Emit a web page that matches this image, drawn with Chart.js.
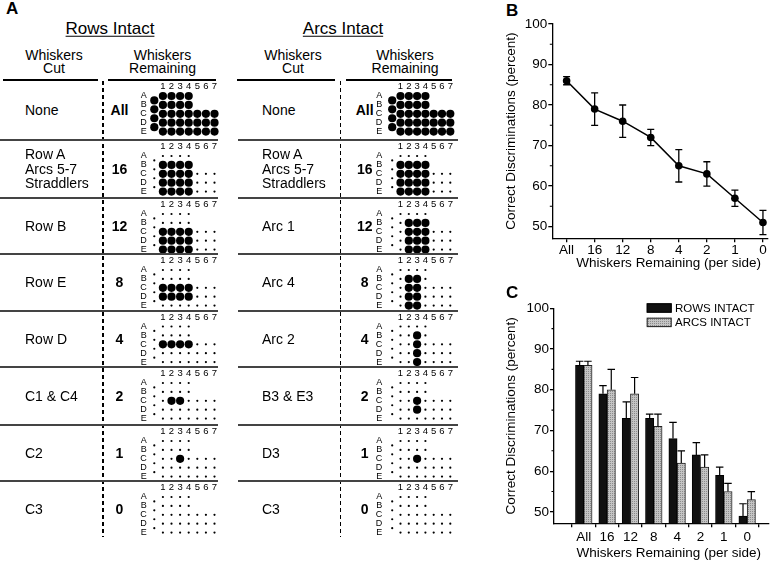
<!DOCTYPE html>
<html>
<head>
<meta charset="utf-8">
<title>Whisker discrimination</title>
<script src="https://cdn.jsdelivr.net/npm/chart.js@4.4.1/dist/chart.umd.min.js"></script>
<style>
  body { margin: 0; background: #fff; }
  #fig { position: relative; width: 774px; height: 563px; overflow: hidden;
         font-family: "Liberation Sans", Arial, Helvetica, sans-serif; color: #000; }
  .t { position: absolute; white-space: pre; line-height: 14.5px; }
  .rule { position: absolute; }
  canvas { position: absolute; }
</style>
</head>
<body>
<div id="fig"></div>
<script>
// ── DATA ──────────────────────────────────────────────
const padRows = ["A", "B", "C", "D", "E"];
const padCols = ["1", "2", "3", "4", "5", "6", "7"];
const rowLengths = [4, 4, 7, 7, 7];

const remainingLabels = ["All", "16", "12", "8", "4", "2", "1", "0"];
const rowsCutLabels = ["None", "Row A\nArcs 5-7\nStraddlers", "Row B", "Row E", "Row D", "C1 & C4", "C2", "C3"];
const arcsCutLabels = ["None", "Row A\nArcs 5-7\nStraddlers", "Arc 1", "Arc 4", "Arc 2", "B3 & E3", "D3", "C3"];

// whiskers left intact ("S" = the four straddlers)
const rowsKept = [
  "S A1-4 B1-4 C1-7 D1-7 E1-7",
  "B1-4 C1-4 D1-4 E1-4",
  "C1-4 D1-4 E1-4",
  "C1-4 D1-4",
  "C1-4",
  "C2-3",
  "C3",
  "",
];
const arcsKept = [
  "S A1-4 B1-4 C1-7 D1-7 E1-7",
  "B1-4 C1-4 D1-4 E1-4",
  "B2-4 C2-4 D2-4 E2-4",
  "B2-3 C2-3 D2-3 E2-3",
  "B3 C3 D3 E3",
  "C3 D3",
  "C3",
  "",
];

const meanB = [86, 79, 76, 72, 65, 63, 57, 51];
const semB  = [1, 4, 4, 2, 4, 3, 2, 3];

const rowsMean = [86, 79, 73, 73, 68, 64, 59, 49];
const rowsSem  = [1, 2, 4, 1, 4, 3, 2, 3];
const arcsMean = [86, 80, 79, 71, 62, 61, 55, 53];
const arcsSem  = [1, 5, 4, 3, 3, 3, 2, 2];

const yTicks = [50, 60, 70, 80, 90, 100];
const minorYTicks = [55, 65, 75, 85, 95];

// ── HELPERS ───────────────────────────────────────────
const FONT = '"Liberation Sans", Arial, Helvetica, sans-serif';
Chart.defaults.font.family = FONT;
Chart.defaults.color = "#000";

const fig = document.getElementById("fig");

function addText(str, x, y, style, align) {
  const d = document.createElement("div");
  d.className = "t";
  d.textContent = str;
  Object.assign(d.style, style);
  d.style.left = x + "px";
  d.style.top = y + "px";
  if (align === "left") {
    d.style.transform = "translate(0,-50%)";
  } else {
    d.style.transform = "translate(-50%,-50%)";
    d.style.textAlign = "center";
  }
  fig.appendChild(d);
  return d;
}

function addRule(x, y, w, h, bg) {
  const d = document.createElement("div");
  d.className = "rule";
  Object.assign(d.style, { left: x + "px", top: y + "px", width: w + "px", height: h + "px", background: bg });
  fig.appendChild(d);
}

function addCanvas(x, y, w, h) {
  const c = document.createElement("canvas");
  c.width = w;
  c.height = h;
  c.style.left = x + "px";
  c.style.top = y + "px";
  fig.appendChild(c);
  return c;
}

function parseKept(spec) {
  const set = new Set();
  spec.split(" ").filter(Boolean).forEach(tok => {
    if (tok === "S") { for (let k = 0; k < 4; k++) set.add("S" + k); return; }
    const r = padRows.indexOf(tok[0]);
    const [a, b] = tok.slice(1).split("-").map(Number);
    for (let c = a; c <= (b || a); c++) set.add(r + ":" + c);
  });
  return set;
}

function gridPoints(set) {
  const kept = [], cut = [];
  for (let k = 0; k < 4; k++) (set.has("S" + k) ? kept : cut).push({ x: 0, y: k + 0.5 });
  padRows.forEach((_, r) => {
    for (let c = 1; c <= rowLengths[r]; c++) (set.has(r + ":" + c) ? kept : cut).push({ x: c, y: r });
  });
  return { kept, cut };
}

// ── PANEL A: TABLES ───────────────────────────────────
const rowTops = [80, 140, 198, 254, 310.5, 367, 425, 481, 537];
const tables = [
  { title: "Rows Intact", cut: rowsCutLabels, kept: rowsKept,
    titleX: 110, cutX: 54, remX: 162.5, rule1: [3, 98], rule2: [108, 216], rowRule: [0, 218],
    dashX: 103, labelX: 25, numX: 119.5, col1: 162.9, sp: 8.6, letterX: 143.8 },
  { title: "Arcs Intact", cut: arcsCutLabels, kept: arcsKept,
    titleX: 343, cutX: 293, remX: 405, rule1: [237, 335], rule2: [346, 452], rowRule: [238, 458],
    dashX: 340.7, labelX: 262, numX: 364.7, col1: 400.5, sp: 8.3, letterX: 379.3 },
];

function drawGrid(t, top, kept) {
  const rowGap = 8.9, yA = top + 16;
  const xMin = -0.8, xMax = 7.6, yMin = -0.35, yMax = 4.6;
  const cl = t.col1 + (xMin - 1) * t.sp, cr = t.col1 + (xMax - 1) * t.sp;
  const ct = yA + yMin * rowGap, cb = yA + yMax * rowGap;
  const L = Math.floor(cl - 16), T = Math.floor(ct - 13);
  const W = Math.ceil(cr + 5) - L, H = Math.ceil(cb + 6) - T;
  const pts = gridPoints(kept);

  new Chart(addCanvas(L, T, W, H), {
    type: "scatter",
    data: {
      datasets: [
        { data: pts.cut,  pointRadius: 1.1, backgroundColor: "#000", borderWidth: 0, clip: false },
        { data: pts.kept, pointRadius: 4.1, backgroundColor: "#000", borderWidth: 0, clip: false },
      ],
    },
    options: {
      responsive: false, animation: false, events: [],
      layout: { padding: { left: 0, top: 0, right: L + W - cr, bottom: T + H - cb }, autoPadding: false },
      plugins: { legend: { display: false }, tooltip: { enabled: false } },
      scales: {
        x: {
          type: "linear", position: "top", min: xMin, max: xMax,
          afterBuildTicks: s => { s.ticks = padCols.map((_, i) => ({ value: i + 1 })); },
          afterFit: s => { s.height = ct - T; s.paddingLeft = s.paddingRight = 0; },
          ticks: { callback: v => padCols[v - 1], font: { size: 9.5 }, color: "#000", padding: 0.8, maxRotation: 0, autoSkip: false },
          grid: { display: false, drawTicks: false }, border: { display: false },
        },
        y: {
          type: "linear", reverse: true, min: yMin, max: yMax,
          afterBuildTicks: s => { s.ticks = padRows.map((_, i) => ({ value: i })); },
          afterFit: s => { s.width = cl - L; s.paddingTop = s.paddingBottom = 0; },
          ticks: { callback: v => padRows[v], font: { size: 9 }, color: "#000", padding: cl - t.letterX - 3, autoSkip: false },
          grid: { display: false, drawTicks: false }, border: { display: false },
        },
      },
    },
  });
}

addText("A", 6, 9, { fontSize: "17px", fontWeight: "bold" }, "left");

tables.forEach(t => {
  addText(t.title, t.titleX, 29, { fontSize: "17px", textDecoration: "underline", textUnderlineOffset: "2px" });
  addText("Whiskers\nCut", t.cutX, 61.7, { fontSize: "14px", lineHeight: "13.5px" });
  addText("Whiskers\nRemaining", t.remX, 61.7, { fontSize: "14px", lineHeight: "13.5px" });
  addRule(t.rule1[0], 79, t.rule1[1] - t.rule1[0], 2, "#000");
  addRule(t.rule2[0], 79, t.rule2[1] - t.rule2[0], 2, "#000");

  const dash = document.createElement("div");
  Object.assign(dash.style, {
    position: "absolute", left: (t.dashX - 0.65) + "px", top: "81px", width: "1.3px", height: "456px",
    background: "repeating-linear-gradient(to bottom, #000 0 4px, transparent 4px 7px)",
  });
  fig.appendChild(dash);

  for (let i = 0; i < 8; i++) {
    const top = rowTops[i], mid = (rowTops[i] + rowTops[i + 1]) / 2;
    if (i > 0) addRule(t.rowRule[0], top - 1, t.rowRule[1] - t.rowRule[0], 2, "#444");
    addText(t.cut[i], t.labelX, mid, { fontSize: "14px" }, "left");
    addText(remainingLabels[i], t.numX, mid, { fontSize: "14px", fontWeight: "bold" });
    drawGrid(t, top, parseKept(t.kept[i]));
  }
});

// ── PLUGINS FOR B / C ─────────────────────────────────
const errorBars = {
  id: "errorBars",
  afterDatasetsDraw(chart, args, o) {
    const ctx = chart.ctx, ys = chart.scales.y;
    chart.data.datasets.forEach((ds, di) => {
      if (!ds.err) return;
      const meta = chart.getDatasetMeta(di);
      ctx.save();
      ctx.strokeStyle = "#000";
      ctx.lineWidth = o.width;
      meta.data.forEach((el, i) => {
        const v = ds.data[i].y, x = el.x;
        const hi = ys.getPixelForValue(v + ds.err[i]);
        const lo = ys.getPixelForValue(o.upOnly ? v : v - ds.err[i]);
        ctx.beginPath();
        ctx.moveTo(x, lo); ctx.lineTo(x, hi);
        ctx.moveTo(x - o.cap / 2, hi); ctx.lineTo(x + o.cap / 2, hi);
        if (!o.upOnly) { ctx.moveTo(x - o.cap / 2, lo); ctx.lineTo(x + o.cap / 2, lo); }
        ctx.stroke();
      });
      ctx.restore();
    });
  },
};

const minorTicks = {
  id: "minorTicks",
  afterDraw(chart, args, o) {
    const y = chart.scales.y, ctx = chart.ctx;
    ctx.save();
    ctx.strokeStyle = "#000";
    ctx.lineWidth = 1.1;
    ctx.beginPath();
    minorYTicks.forEach(v => {
      const py = y.getPixelForValue(v);
      ctx.moveTo(y.right, py); ctx.lineTo(y.right - o.length, py);
    });
    ctx.stroke();
    ctx.restore();
  },
};

const xCaption = {
  id: "xCaption",
  afterDraw(chart, args, o) {
    const { ctx, chartArea } = chart;
    ctx.save();
    ctx.font = "13.5px " + FONT;
    ctx.fillStyle = "#000";
    ctx.textAlign = "center";
    ctx.textBaseline = "middle";
    ctx.fillText(o.text, (chartArea.left + chartArea.right) / 2 + o.dx, chartArea.bottom + o.dy);
    ctx.restore();
  },
};

const boxLegend = {
  id: "boxLegend",
  afterDraw(chart, args, o) {
    const { ctx, chartArea } = chart;
    ctx.save();
    ctx.font = "11.5px " + FONT;
    ctx.textBaseline = "middle";
    ctx.textAlign = "left";
    chart.data.datasets.forEach((ds, i) => {
      const x = chartArea.left + o.x, y = chartArea.top + o.y + i * o.gap;
      ctx.fillStyle = ds.backgroundColor;
      ctx.fillRect(x, y, o.boxW, o.boxH);
      ctx.strokeStyle = ds.borderColor;
      ctx.lineWidth = 1;
      ctx.strokeRect(x + 0.5, y + 0.5, o.boxW - 1, o.boxH - 1);
      ctx.fillStyle = "#000";
      ctx.fillText(ds.label, x + o.boxW + 3.3, y + o.boxH / 2 + 0.5);
    });
    ctx.restore();
  },
};

function xAxis(min, max, height, pad) {
  return {
    type: "linear", min, max,
    afterBuildTicks: s => { s.ticks = remainingLabels.map((_, i) => ({ value: i })); },
    afterFit: s => { s.height = height; s.paddingLeft = s.paddingRight = 0; },
    ticks: { callback: v => remainingLabels[v], font: { size: 13.5 }, color: "#000", padding: pad, maxRotation: 0, autoSkip: false },
    grid: { drawOnChartArea: false, tickLength: 4, color: "#000", lineWidth: 1.3 },
    border: { color: "#000", width: 1.3 },
  };
}

function yAxis(min, width) {
  return {
    type: "linear", min, max: 100,
    afterBuildTicks: s => { s.ticks = yTicks.map(v => ({ value: v })); },
    afterFit: s => { s.width = width; s.paddingTop = s.paddingBottom = 0; },
    ticks: { font: { size: 13.5 }, color: "#000", padding: 1 },
    grid: { drawOnChartArea: false, tickLength: 4, color: "#000", lineWidth: 1.3 },
    border: { color: "#000", width: 1.3 },
    title: { display: true, text: "Correct Discriminations (percent)", font: { size: 13.5 }, color: "#000", padding: { top: 2.9, bottom: 0 } },
  };
}

// stippled light grey fill of the arcs bars
function stipple() {
  const c = document.createElement("canvas");
  c.width = 2; c.height = 2;
  const g = c.getContext("2d");
  g.fillStyle = "#c4c4c4"; g.fillRect(0, 0, 2, 2);
  g.fillStyle = "#8c8c8c"; g.fillRect(0, 0, 1, 1);
  return g.createPattern(c, "repeat");
}

// ── PANEL B: LINE ─────────────────────────────────────
addText("B", 506, 11, { fontSize: "17px", fontWeight: "bold" }, "left");

new Chart(addCanvas(500, 0, 274, 285), {
  type: "line",
  data: {
    datasets: [{
      data: meanB.map((v, i) => ({ x: i, y: v })),
      err: semB,
      borderColor: "#000", borderWidth: 1.5, tension: 0,
      pointRadius: 3.8, pointBackgroundColor: "#000", pointBorderWidth: 0,
    }],
  },
  options: {
    responsive: false, animation: false, events: [],
    layout: { padding: { top: 24, right: 6, left: 0, bottom: 0 }, autoPadding: false },
    plugins: {
      legend: { display: false }, tooltip: { enabled: false },
      errorBars: { cap: 7, upOnly: false, width: 1.3 },
      minorTicks: { length: 2.5 },
      xCaption: { text: "Whiskers Remaining (per side)", dx: 8.5, dy: 25 },
    },
    scales: { x: xAxis(-0.51, 7.18, 46.7, 0), y: yAxis(47.1, 52.3) },
  },
  plugins: [errorBars, minorTicks, xCaption],
});

// ── PANEL C: BARS ─────────────────────────────────────
addText("C", 506, 292.5, { fontSize: "17px", fontWeight: "bold" }, "left");

new Chart(addCanvas(500, 285, 274, 278), {
  type: "bar",
  data: {
    datasets: [
      { label: "ROWS INTACT", data: rowsMean.map((v, i) => ({ x: i, y: v })), err: rowsSem,
        backgroundColor: "#111", borderColor: "#000", borderWidth: 1, barThickness: 8.3 },
      { label: "ARCS INTACT", data: arcsMean.map((v, i) => ({ x: i, y: v })), err: arcsSem,
        backgroundColor: stipple(), borderColor: "#222", borderWidth: 1, barThickness: 8.3 },
    ],
  },
  options: {
    responsive: false, animation: false, events: [],
    layout: { padding: { top: 23.3, right: 5, left: 0, bottom: 0 }, autoPadding: false },
    plugins: {
      legend: { display: false }, tooltip: { enabled: false },
      errorBars: { cap: 7.5, upOnly: true, width: 1.2 },
      minorTicks: { length: 2.5 },
      xCaption: { text: "Whiskers Remaining (per side)", dx: 7.2, dy: 30 },
      boxLegend: { x: 92.7, y: -5, gap: 14.4, boxW: 25, boxH: 9.4 },
    },
    scales: { x: xAxis(-0.70, 7.36, 39.7, 1.6), y: yAxis(47.2, 54) },
  },
  plugins: [errorBars, minorTicks, xCaption, boxLegend],
});
</script>
</body>
</html>
